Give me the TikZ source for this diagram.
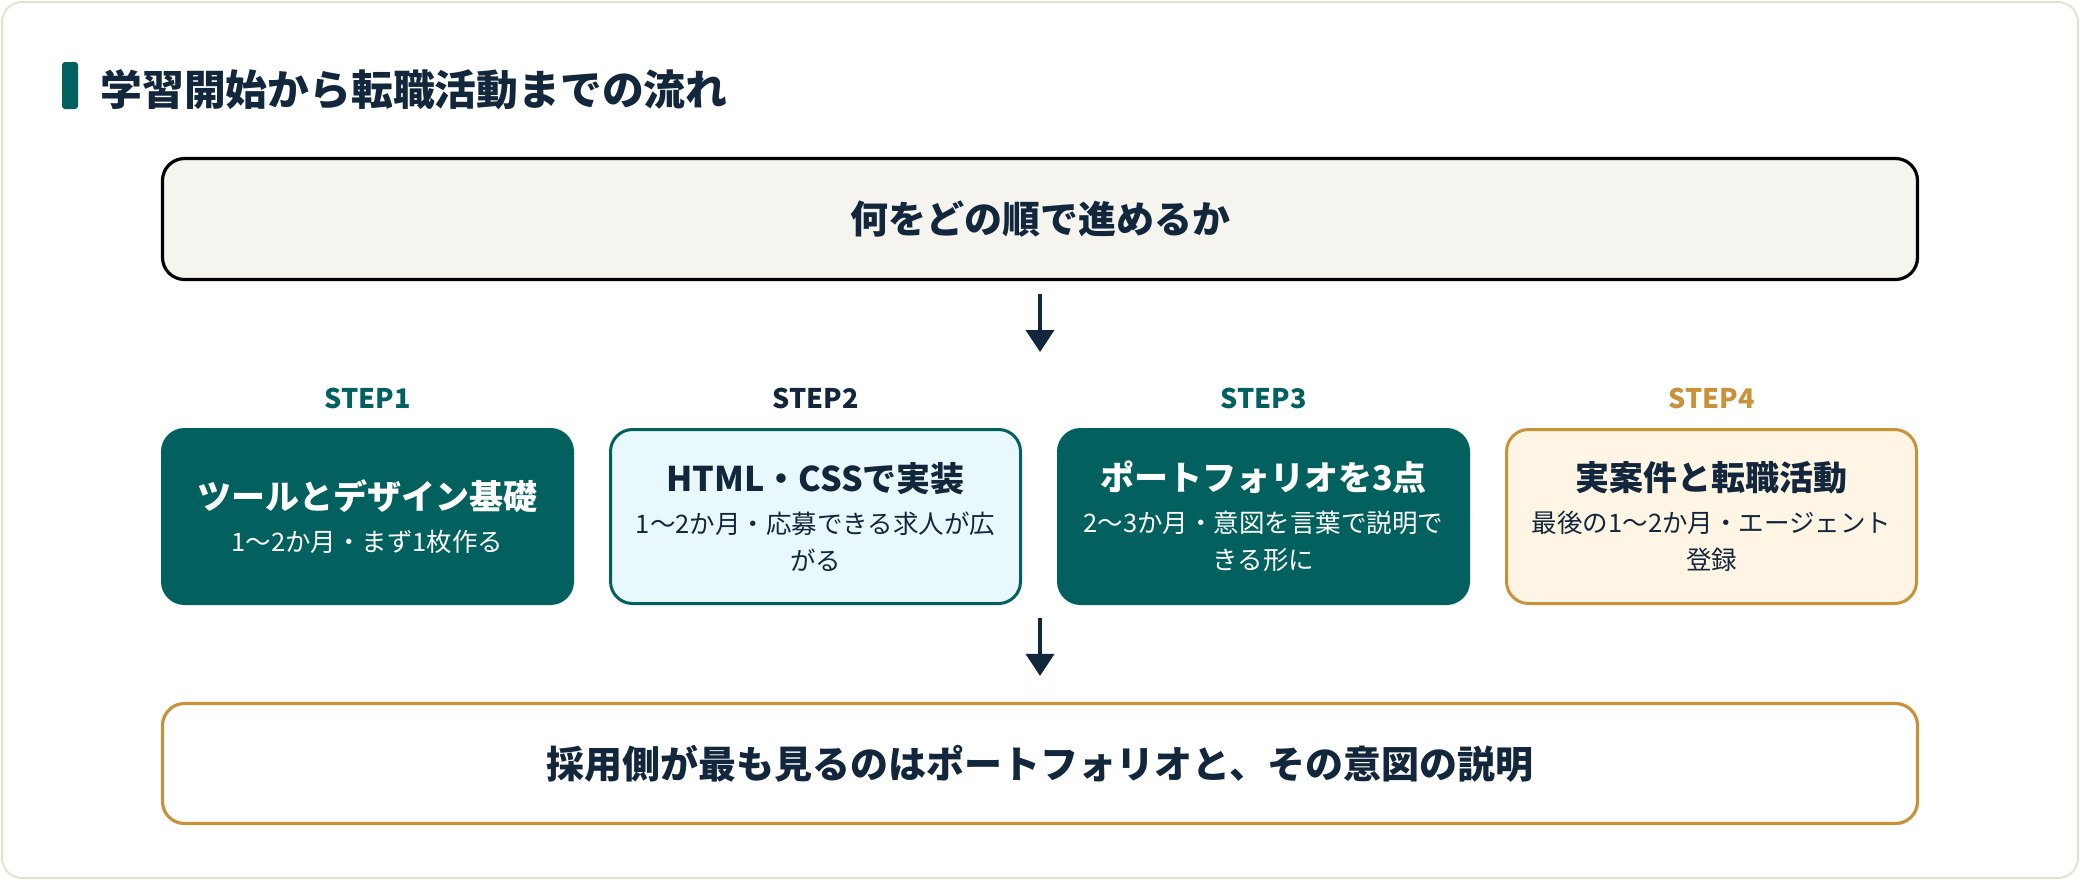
\documentclass[tikz,border=0pt]{standalone}
\usepackage{fontspec}
\setmainfont{Noto Sans CJK JP}
\usetikzlibrary{arrows.meta}
\definecolor{navy}{HTML}{12263C}
\definecolor{deepteal}{HTML}{02615F}
\definecolor{gold}{HTML}{C8923A}
\definecolor{framebd}{HTML}{E4E1D2}
\definecolor{paper}{HTML}{F5F4EF}
\definecolor{icefill}{HTML}{E9F8FC}
\definecolor{creamfill}{HTML}{FEF5E4}
\begin{document}
\begin{tikzpicture}[x=0.5pt,y=-0.5pt,
    wide/.style={draw, rounded corners=11pt, line width=1.6pt, minimum width=877.5pt,
      minimum height=60.5pt, inner sep=0pt, text=navy,
      font=\fontsize{19pt}{23pt}\selectfont\bfseries},
    stepbox/.style={draw, rounded corners=11pt, line width=1.5pt, minimum width=205pt,
      minimum height=87pt, inner sep=0pt, align=center,
      font=\fontsize{12.75pt}{18.5pt}\selectfont},
    steplabel/.style={inner sep=0pt, font=\fontsize{13.5pt}{15pt}\selectfont\bfseries},
    flow/.style={draw=navy, line width=2pt, -{Triangle[length=11pt,width=14pt]}}]
    \useasboundingbox (0,0) rectangle (2080,880);
    \fill[white] (0,0) rectangle (2080,880);
    \draw[framebd, line width=1pt, fill=white, rounded corners=10pt] (2,2) rectangle (2078,878);

    \fill[deepteal, rounded corners=1.5pt] (62,62) rectangle (78,109);
    \node[anchor=west, inner sep=0pt, text=navy, font=\fontsize{20.9pt}{24pt}\selectfont\bfseries]
      (title) at (100,89.5) {学習開始から転職活動までの流れ};

    \node[wide, fill=paper] (order) at (1040,219) {何をどの順で進めるか};
    \coordinate (orderend) at (1040,352);
    \draw[flow, shorten <=6.5pt] (order.south) -- (orderend);

    \node[steplabel, text=deepteal] (lab1) at (367.5,398) {STEP1};
    \node[steplabel, text=navy] (lab2) at (815.5,398) {STEP2};
    \node[steplabel, text=deepteal] (lab3) at (1263.5,398) {STEP3};
    \node[steplabel, text=gold] (lab4) at (1711.5,398) {STEP4};

    \node[stepbox, draw=deepteal, fill=deepteal, text=white] (tools) at (367.5,516.5)
      {{\fontsize{17pt}{21pt}\selectfont\bfseries ツールとデザイン基礎}\\[2.5pt]
       1〜2か月・まず1枚作る};
    \node[stepbox, draw=deepteal, fill=icefill, text=navy] (code) at (815.5,516.5)
      {{\fontsize{17pt}{21pt}\selectfont\bfseries HTML・CSSで実装}\\[2.5pt]
       1〜2か月・応募できる求人が広\\がる};
    \node[stepbox, draw=deepteal, fill=deepteal, text=white] (folio) at (1263.5,516.5)
      {{\fontsize{17pt}{21pt}\selectfont\bfseries ポートフォリオを3点}\\[2.5pt]
       2〜3か月・意図を言葉で説明で\\きる形に};
    \node[stepbox, draw=gold, fill=creamfill, text=navy] (job) at (1711.5,516.5)
      {{\fontsize{17pt}{21pt}\selectfont\bfseries 実案件と転職活動}\\[2.5pt]
       最後の1〜2か月・エージェント\\登録};

    \node[wide, draw=gold, fill=white, minimum height=60pt] (point) at (1040,763.5)
      {採用側が最も見るのはポートフォリオと、その意図の説明};
    \coordinate (pointstart) at (1040,618);
    \draw[flow, shorten >=13pt] (pointstart) -- (point.north);

\end{tikzpicture}
\end{document}
